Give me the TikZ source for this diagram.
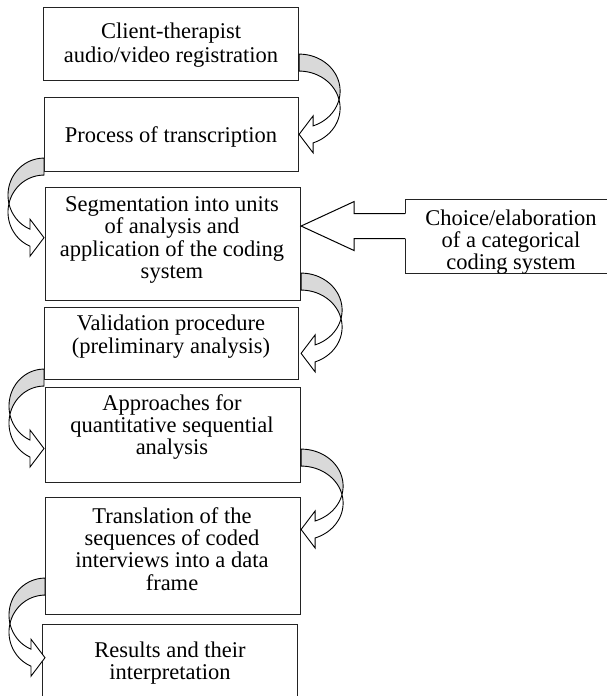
\documentclass[tikz,border=0pt]{standalone}
\usepackage{fontspec}
\setmainfont{Liberation Serif}
\usetikzlibrary{calc}

\definecolor{bandgray}{RGB}{217,217,217}
\definecolor{edgeink}{RGB}{35,35,35}

\tikzset{
  box/.style={draw=edgeink, line width=1.1pt, fill=white, inner sep=0pt, anchor=north west},
  caption/.style={align=center, inner sep=0pt, font=\fontsize{22.5}{22.3}\selectfont},
  bandback/.style={draw=black, line width=0.9pt, fill=bandgray, line join=round},
  bandfront/.style={draw=black, line width=0.9pt, fill=white, line join=miter},
  feed/.style={draw=black, line width=1pt, line join=miter},
}

% rectangle node from its top-left corner (x1,y1) to its bottom-right corner (x2,y2)
\newcommand\stagebox[5]{%
  \node[box, minimum width={#4pt-#2pt}, minimum height={#5pt-#3pt}] (#1) at (#2,#3) {};}

% curved block arrow leaving one box side and turning back into the next box
% #1: anchor on the box side, #2: vertical offset of the band top from it,
% #3: 1 for the right side, -1 for the left side, #4: outward reach
\newcommand\turnarrow[4]{%
  \begin{scope}[shift={($(#1)+(0,#2)$)}, xscale=#3]
    \pgfmathsetmacro\bendend{acos(14/#4)}
    \pgfmathsetmacro\bandend{37+37*sin(\bendend)}
    % shaded far side of the band
    \filldraw[bandback]
      plot[domain=-90:13.28, samples=40, variable=\t] ({#4*cos(\t)},{37+37*sin(\t)})
      -- plot[domain=13.28:90, samples=40, variable=\t] ({#4*cos(\t)},{54-37*sin(\t)})
      -- cycle;
    % near side of the band with its head
    \filldraw[bandfront]
      plot[domain=13.28:\bendend, samples=40, variable=\t] ({#4*cos(\t)},{37+37*sin(\t)})
      -- (14,{\bandend-10}) -- (0,{\bandend+8.5}) -- (14,{\bandend+27})
      -- plot[domain={-\bendend}:13.28, samples=40, variable=\t] ({#4*cos(\t)},{54-37*sin(\t)})
      -- cycle;
  \end{scope}}

\begin{document}
\begin{tikzpicture}[x=1pt, y=-1pt]
  \useasboundingbox (0,0) rectangle (607,696);
  \clip (0,0) rectangle (607,696);

  % stages
  \stagebox{b1}{43}{7}{298}{80}
  \stagebox{b2}{44}{97}{298}{171}
  \stagebox{b3}{45}{187}{300}{300}
  \stagebox{b4}{44}{307}{298}{379}
  \stagebox{b5}{45}{387}{300}{482}
  \stagebox{b6}{45}{497}{300}{614}
  \stagebox{b7}{42}{624}{297}{699}
  \stagebox{c}{405}{199}{617}{273}

  % captions
  \node[caption, font=\fontsize{22.5}{24}\selectfont] (t1) at (171,45) {Client-therapist\\audio/video registration};
  \node[caption] (t2) at (171,136.5) {Process of transcription};
  \node[caption] (t3) at (172,240) {Segmentation into units\\of analysis and\\application of the coding\\system};
  \node[caption] (t4) at (171,336.5) {Validation procedure\\(preliminary analysis)};
  \node[caption] (t5) at (172,427) {Approaches for\\quantitative sequential\\analysis};
  \node[caption] (t6) at (172,549) {Translation of the\\sequences of coded\\interviews into a data\\frame};
  \node[caption] (t7) at (170,663) {Results and their\\interpretation};
  \node[caption] (tc) at (511,242) {Choice/elaboration\\of a categorical\\coding system};

  % turning arrows between consecutive stages
  \turnarrow{b1.south east}{-27}{1}{41}
  \turnarrow{b2.south west}{-14}{-1}{36}
  \turnarrow{b3.south east}{-28}{1}{41}
  \turnarrow{b4.south west}{-11}{-1}{35}
  \turnarrow{b5.south east}{-34}{1}{42}
  \turnarrow{b6.south west}{-37}{-1}{36}

  % block arrow from the coding system into the segmentation stage
  \path (c.west) ++(0,-10.5) coordinate (cin);
  \coordinate (ctip) at (b3.east |- cin);
  \fill[white] ($(cin)+(1.5,-12.5)$) -- ($(ctip)+(53,-12.5)$) -- ($(ctip)+(53,-24.5)$)
    -- (ctip) -- ($(ctip)+(53,24.5)$) -- ($(ctip)+(53,12.5)$) -- ($(cin)+(1.5,12.5)$) -- cycle;
  \draw[feed] ($(cin)+(0,-12.5)$) -- ($(ctip)+(53,-12.5)$) -- ($(ctip)+(53,-24.5)$)
    -- (ctip) -- ($(ctip)+(53,24.5)$) -- ($(ctip)+(53,12.5)$) -- ($(cin)+(0,12.5)$);
\end{tikzpicture}
\end{document}
